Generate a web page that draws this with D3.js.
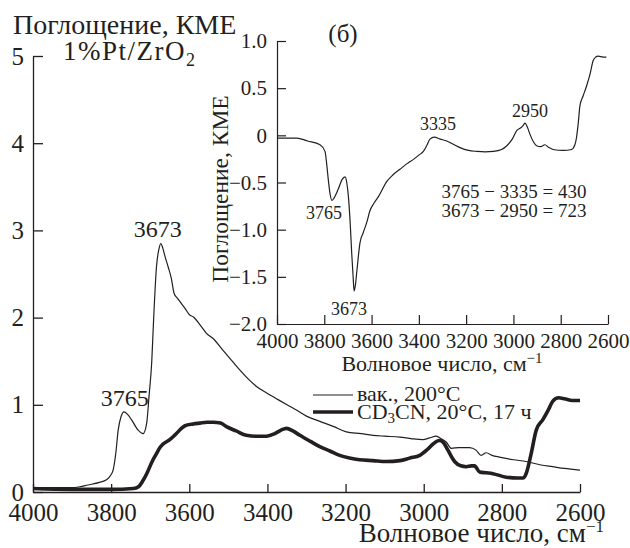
<!DOCTYPE html>
<html>
<head>
<meta charset="utf-8">
<script src="https://cdn.jsdelivr.net/npm/d3@7"></script>
<style>
  body { margin: 0; background: #fff; }
</style>
</head>
<body>
<div id="chart"></div>
<script>
// main panel: vacuum 200 C spectrum
var vacWn = [4000, 3950, 3900, 3880, 3860, 3830, 3812, 3800, 3795, 3788, 3782, 3775, 3767, 3758, 3748, 3731, 3718, 3709, 3703, 3696, 3691, 3684, 3677, 3673, 3668, 3662, 3654, 3646, 3639, 3630, 3620, 3610, 3599, 3590, 3573, 3556, 3539, 3513, 3490, 3471, 3450, 3428, 3400, 3377, 3350, 3326, 3300, 3266, 3230, 3198, 3160, 3130, 3100, 3061, 3030, 3002, 2985, 2968, 2955, 2942, 2929, 2910, 2883, 2866, 2853, 2840, 2825, 2806, 2770, 2738, 2700, 2670, 2640, 2600];
var vacAbs = [0.05, 0.05, 0.05, 0.06, 0.08, 0.11, 0.14, 0.20, 0.25, 0.45, 0.71, 0.86, 0.92, 0.89, 0.83, 0.71, 0.67, 0.79, 1.10, 1.50, 2.01, 2.58, 2.80, 2.85, 2.80, 2.70, 2.58, 2.45, 2.28, 2.22, 2.16, 2.10, 2.03, 2.01, 1.92, 1.82, 1.76, 1.62, 1.50, 1.40, 1.30, 1.21, 1.13, 1.07, 1.00, 0.94, 0.87, 0.81, 0.75, 0.69, 0.67, 0.65, 0.64, 0.63, 0.61, 0.60, 0.62, 0.64, 0.61, 0.57, 0.50, 0.51, 0.51, 0.48, 0.42, 0.45, 0.42, 0.40, 0.37, 0.35, 0.31, 0.29, 0.27, 0.25];

// main panel: CD3CN 20 C, 17 h
var cdWn = [4000, 3900, 3800, 3743, 3730, 3720, 3709, 3695, 3684, 3675, 3667, 3650, 3633, 3620, 3611, 3590, 3573, 3555, 3539, 3520, 3505, 3480, 3454, 3430, 3402, 3381, 3365, 3351, 3335, 3317, 3290, 3266, 3240, 3215, 3190, 3164, 3130, 3096, 3061, 3035, 3010, 2990, 2976, 2960, 2950, 2938, 2921, 2905, 2891, 2878, 2870, 2857, 2840, 2823, 2789, 2760, 2746, 2738, 2725, 2712, 2695, 2680, 2670, 2655, 2640, 2620, 2600];
var cdAbs = [0.04, 0.03, 0.03, 0.04, 0.06, 0.12, 0.21, 0.35, 0.44, 0.51, 0.55, 0.60, 0.67, 0.73, 0.76, 0.78, 0.79, 0.80, 0.80, 0.79, 0.75, 0.70, 0.65, 0.64, 0.64, 0.67, 0.71, 0.73, 0.70, 0.65, 0.58, 0.52, 0.47, 0.42, 0.39, 0.37, 0.36, 0.35, 0.36, 0.39, 0.42, 0.49, 0.55, 0.59, 0.57, 0.48, 0.35, 0.30, 0.29, 0.30, 0.30, 0.23, 0.22, 0.21, 0.17, 0.16, 0.16, 0.21, 0.44, 0.71, 0.83, 0.95, 1.04, 1.08, 1.07, 1.05, 1.05];

// inset (б): difference spectrum
var diffWn = [4000, 3950, 3917, 3870, 3818, 3797, 3790, 3783, 3775, 3768, 3760, 3741, 3725, 3712, 3705, 3698, 3690, 3684, 3678, 3674, 3668, 3663, 3649, 3635, 3620, 3607, 3590, 3571, 3536, 3510, 3480, 3450, 3423, 3400, 3381, 3365, 3353, 3335, 3310, 3282, 3250, 3226, 3190, 3155, 3120, 3085, 3050, 3028, 3005, 2986, 2969, 2960, 2951, 2940, 2930, 2915, 2902, 2885, 2867, 2850, 2832, 2790, 2754, 2740, 2733, 2725, 2719, 2705, 2691, 2675, 2663, 2652, 2642, 2620, 2607];
var diffAbs = [-0.03, -0.03, -0.03, -0.06, -0.10, -0.17, -0.30, -0.47, -0.63, -0.69, -0.67, -0.57, -0.47, -0.44, -0.50, -0.65, -0.95, -1.25, -1.50, -1.65, -1.58, -1.46, -1.14, -1.03, -0.92, -0.80, -0.72, -0.65, -0.49, -0.42, -0.36, -0.30, -0.255, -0.21, -0.17, -0.10, -0.04, -0.02, -0.04, -0.06, -0.10, -0.13, -0.16, -0.17, -0.175, -0.17, -0.15, -0.11, -0.04, 0.05, 0.08, 0.10, 0.13, 0.08, 0.01, -0.07, -0.11, -0.12, -0.10, -0.13, -0.15, -0.16, -0.15, -0.10, -0.02, 0.15, 0.31, 0.42, 0.52, 0.66, 0.79, 0.83, 0.84, 0.83, 0.83];

var mainXTicks = [4000, 3800, 3600, 3400, 3200, 3000, 2800, 2600];
var mainYTicks = [0, 1, 2, 3, 4, 5];
var insetXTicks = [4000, 3800, 3600, 3400, 3200, 3000, 2800, 2600];
var insetYTicks = [1.0, 0.5, 0, -0.5, -1.0, -1.5, -2.0];

var width = 630, height = 548;
var ink = "#231f20";
var serif = "'Liberation Serif', 'Times New Roman', serif";

var svg = d3.select("#chart").append("svg")
    .attr("width", width)
    .attr("height", height)
    .attr("font-family", serif)
    .style("font-family", serif);

// ---- main panel ----
var x = d3.scaleLinear().domain([4000, 2600]).range([33, 580]);
var y = d3.scaleLinear().domain([0, 5]).range([492, 56]);

var xAxis = svg.append("g")
    .attr("transform", "translate(0," + y(0) + ")")
    .call(d3.axisBottom(x).tickValues(mainXTicks).tickSizeInner(-8).tickSizeOuter(0).tickPadding(11).tickFormat(d3.format("d")));
var yAxis = svg.append("g")
    .attr("transform", "translate(" + x(4000) + ",0)")
    .call(d3.axisLeft(y).tickValues(mainYTicks).tickSizeInner(-10).tickSizeOuter(0).tickPadding(9).tickFormat(d3.format("d")));

[xAxis, yAxis].forEach(function(g){
    g.attr("font-family", null).attr("font-size", null);
    g.selectAll("path, line").attr("stroke", ink).attr("stroke-width", 1.3);
    g.selectAll("text").attr("fill", ink).style("font-family", serif).style("font-size", "25px");
});

var line = d3.line()
    .x(function(d){ return x(d[0]); })
    .y(function(d){ return y(d[1]); })
    .curve(d3.curveMonotoneX);

svg.append("path")
    .attr("d", line(d3.zip(vacWn, vacAbs)))
    .attr("fill", "none")
    .attr("stroke", ink)
    .attr("stroke-width", 1.2);

svg.append("path")
    .attr("d", line(d3.zip(cdWn, cdAbs)))
    .attr("fill", "none")
    .attr("stroke", ink)
    .attr("stroke-width", 3.6)
    .attr("stroke-linejoin", "round");

function label(px, py, size, txt, anchor){
    return svg.append("text")
        .attr("x", px).attr("y", py)
        .attr("text-anchor", anchor || "start")
        .attr("fill", ink)
        .style("font-family", serif)
        .style("font-size", size + "px")
        .text(txt);
}

label(13, 34, 28, "Поглощение, КМЕ");

var cat = label(63, 60, 27, "").style("letter-spacing", "1.5px");
cat.append("tspan").text("1%Pt/ZrO");
cat.append("tspan").attr("dy", 6).style("font-size", "18px").text("2");

label(x(3765), 406, 24, "3765", "middle");
label(x(3673) - 3, 237, 24, "3673", "middle");

var xt = label(604, 542, 27, "", "end");
xt.append("tspan").text("Волновое число, см");
xt.append("tspan").attr("dy", -10).style("font-size", "17px").text("−1");

// legend
var legend = svg.append("g");
legend.append("line").attr("x1", 313).attr("x2", 353).attr("y1", 395).attr("y2", 395)
    .attr("stroke", ink).attr("stroke-width", 1.2);
label(357, 401, 22, "вак., 200°C");
legend.append("line").attr("x1", 313).attr("x2", 353).attr("y1", 412).attr("y2", 412)
    .attr("stroke", ink).attr("stroke-width", 3.6);
var lt = label(357, 419, 22, "");
lt.append("tspan").text("CD");
lt.append("tspan").attr("dy", 4).style("font-size", "15px").text("3");
lt.append("tspan").attr("dy", -4).text("CN, 20°C, 17 ч");

// ---- inset (б) ----
var ix = d3.scaleLinear().domain([4000, 2600]).range([277, 608]);
var iy = d3.scaleLinear().domain([-2, 1]).range([324, 41]);

var ixAxis = svg.append("g")
    .attr("transform", "translate(0," + iy(-2) + ")")
    .call(d3.axisBottom(ix).tickValues(insetXTicks).tickSizeInner(-9).tickSizeOuter(0).tickPadding(9).tickFormat(d3.format("d")));
var iyAxis = svg.append("g")
    .attr("transform", "translate(" + ix(4000) + ",0)")
    .call(d3.axisLeft(iy).tickValues(insetYTicks).tickSizeInner(-9).tickSizeOuter(0).tickPadding(10)
        .tickFormat(function(d){ return d === 0 ? "0" : d3.format(".1f")(d); }));

[ixAxis, iyAxis].forEach(function(g){
    g.attr("font-family", null).attr("font-size", null);
    g.selectAll("path, line").attr("stroke", ink).attr("stroke-width", 1.2);
    g.selectAll("text").attr("fill", ink).style("font-family", serif).style("font-size", "21px");
});

var iline = d3.line()
    .x(function(d){ return ix(d[0]); })
    .y(function(d){ return iy(d[1]); })
    .curve(d3.curveMonotoneX);

svg.append("path")
    .attr("d", iline(d3.zip(diffWn, diffAbs)))
    .attr("fill", "none")
    .attr("stroke", ink)
    .attr("stroke-width", 1.2);

label(343, 42, 25, "(б)", "middle");

label(0, 0, 23.5, "Поглощение, КМЕ", "middle")
    .attr("x", null).attr("y", null)
    .attr("transform", "translate(228,189) rotate(-90)");

var ixt = label(442, 371, 22, "", "middle");
ixt.append("tspan").text("Волновое число, см");
ixt.append("tspan").attr("dy", -8).style("font-size", "15px").text("−1");

var peakLabels = [
    {t: "3765", x: 324, y: 219},
    {t: "3673", x: 349, y: 315},
    {t: "3335", x: 438, y: 130},
    {t: "2950", x: 530, y: 117}
];
peakLabels.forEach(function(p){
    label(p.x, p.y, 18, p.t, "middle");
});

label(514, 198, 19, "3765 − 3335 = 430", "middle");
label(514, 217, 19, "3673 − 2950 = 723", "middle");
</script>
</body>
</html>
